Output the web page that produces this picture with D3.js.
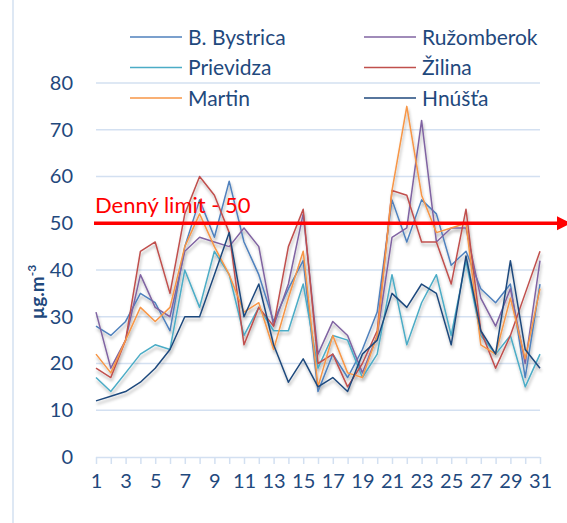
<!DOCTYPE html>
<html>
<head>
<meta charset="utf-8">
<script src="https://cdn.jsdelivr.net/npm/d3@7"></script>
<style>
  body { margin: 0; background: #fff; }
  svg { display: block; font-family: Lato, "Open Sans", sans-serif; }
</style>
</head>
<body>
<svg id="chart" width="567" height="523"></svg>
<script>
const days = d3.range(1, 32);
const xTickLabels = [1, 3, 5, 7, 9, 11, 13, 15, 17, 19, 21, 23, 25, 27, 29, 31];
const yTicks = [0, 10, 20, 30, 40, 50, 60, 70, 80];
const limitValue = 50;
const limitLabel = "Denný limit - 50";

const bBystrica  = [28, 26, 29, 35, 33, 27, 45, 55, 47, 59, 46, 39, 29, 36, 42, 14, 22, 17, 23, 31, 55, 46, 55, 52, 41, 44, 36, 33, 37, 17, 37];
const ruzomberok = [31, 19, 25, 39, 32, 30, 44, 47, 46, 45, 49, 45, 28, 37, 52, 22, 29, 26, 18, 26, 47, 49, 72, 46, 49, 49, 34, 28, 36, 20, 42];
const prievidza  = [17, 14, 18, 22, 24, 23, 40, 32, 44, 39, 26, 32, 27, 27, 37, 19, 26, 25, 17, 22, 39, 24, 33, 39, 26, 42, 26, 22, 26, 15, 22];
const zilina     = [19, 17, 25, 44, 46, 35, 52, 60, 56, 48, 24, 32, 28, 45, 53, 20, 22, 15, 20, 27, 57, 56, 46, 46, 37, 53, 27, 19, 26, 35, 44];
const martin     = [22, 18, 25, 32, 29, 32, 45, 52, 45, 39, 31, 33, 23, 34, 44, 15, 26, 18, 17, 26, 57, 75, 56, 48, 49, 50, 24, 22, 34, 21, 36];
const hnusta     = [12, 13, 14, 16, 19, 23, 30, 30, 39, 48, 30, 37, 24, 16, 21, 15, 17, 14, 22, 25, 35, 32, 37, 35, 24, 43, 27, 22, 42, 23, 19];

const seriesNames  = ["B. Bystrica", "Ružomberok", "Prievidza", "Žilina", "Martin", "Hnúšťa"];
const seriesValues = [bBystrica, ruzomberok, prievidza, zilina, martin, hnusta];
const seriesColors = ["#4F81BD", "#8064A2", "#4BACC6", "#C0504D", "#F79646", "#1F497D"];

const svg = d3.select("#chart");
const textColor = "#1F497D";
const gridColor = "#D3E0F1";

const margin = { top: 83, right: 27, bottom: 66, left: 96 };
const width = 567, height = 523;

const x = d3.scalePoint()
    .domain(days)
    .range([margin.left, width - margin.right]);

const y = d3.scaleLinear()
    .domain([0, 80])
    .range([height - margin.bottom, margin.top]);

// frame line on the left
svg.append("line")
    .attr("x1", 13).attr("x2", 13)
    .attr("y1", 0).attr("y2", height)
    .attr("stroke", gridColor).attr("stroke-width", 1.5);

// shadow for series
const defs = svg.append("defs");
defs.append("filter")
    .attr("id", "shadow")
    .attr("x", "-10%").attr("y", "-10%").attr("width", "120%").attr("height", "130%")
    .append("feDropShadow")
    .attr("dx", 1).attr("dy", 3).attr("stdDeviation", 1.8)
    .attr("flood-color", "#000").attr("flood-opacity", 0.3);

// grid lines
svg.append("g")
    .selectAll("line")
    .data(yTicks.filter(d => d > 0))
    .join("line")
    .attr("x1", margin.left)
    .attr("x2", width - margin.right)
    .attr("y1", d => y(d))
    .attr("y2", d => y(d))
    .attr("stroke", gridColor)
    .attr("stroke-width", 1.5);

// y axis labels
const yAxis = svg.append("g")
    .attr("transform", `translate(${margin.left},0)`)
    .call(d3.axisLeft(y).tickValues(yTicks).tickSize(0).tickPadding(23));
yAxis.select(".domain").remove();
yAxis.selectAll("text")
    .attr("fill", textColor)
    .style("font-size", "20px")
    .style("font-family", "Lato, sans-serif");

// x axis
const xAxis = svg.append("g")
    .attr("transform", `translate(0,${y(0)})`)
    .call(d3.axisBottom(x).tickSize(7).tickPadding(10)
        .tickFormat(d => xTickLabels.includes(d) ? d : ""));
xAxis.select(".domain")
    .attr("stroke", gridColor).attr("stroke-width", 1.5)
    .attr("d", `M${margin.left},0.5H${width - margin.right}`);
xAxis.selectAll(".tick line").attr("stroke", gridColor).attr("stroke-width", 1.5);
xAxis.selectAll("text")
    .attr("fill", textColor)
    .style("font-size", "20px")
    .style("font-family", "Lato, sans-serif");

// y axis title
svg.append("text")
    .attr("transform", `translate(44,${(y(0) + y(80)) / 2 + 22}) rotate(-90)`)
    .attr("text-anchor", "middle")
    .attr("fill", textColor)
    .style("font-size", "19px")
    .style("font-weight", "bold")
    .html('µg.m<tspan dy="-8" font-size="12">-3</tspan>');

// series lines
const line = d3.line()
    .x((d, i) => x(days[i]))
    .y(d => y(d));

svg.append("g")
    .attr("filter", "url(#shadow)")
    .selectAll("path")
    .data(seriesValues)
    .join("path")
    .attr("d", line)
    .attr("fill", "none")
    .attr("stroke", (d, i) => seriesColors[i])
    .attr("stroke-width", 1.5)
    .attr("stroke-linejoin", "round");

// daily limit arrow
defs.append("marker")
    .attr("id", "arrow")
    .attr("viewBox", "0 0 10 10")
    .attr("refX", 10).attr("refY", 5)
    .attr("markerWidth", 4).attr("markerHeight", 4.5)
    .attr("markerUnits", "strokeWidth")
    .attr("orient", "auto")
    .append("path")
    .attr("d", "M0,0L10,5L0,10Z")
    .attr("fill", "#FF0000");

svg.append("line")
    .attr("x1", margin.left - 2)
    .attr("x2", 571)
    .attr("y1", y(limitValue))
    .attr("y2", y(limitValue))
    .attr("stroke", "#FF0000")
    .attr("stroke-width", 3.5)
    .attr("marker-end", "url(#arrow)");

svg.append("text")
    .attr("x", margin.left - 1)
    .attr("y", y(limitValue) - 10)
    .attr("fill", "#FF0000")
    .style("font-size", "22px")
    .text(limitLabel);

// legend
const legend = svg.append("g")
    .selectAll("g")
    .data(seriesNames)
    .join("g")
    .attr("transform", (d, i) => `translate(${i % 2 === 0 ? 130 : 364},${37 + Math.floor(i / 2) * 30.5})`);

legend.append("line")
    .attr("x1", 0).attr("x2", 52)
    .attr("stroke", (d, i) => seriesColors[i])
    .attr("stroke-width", 1.5);

legend.append("text")
    .attr("x", 58)
    .attr("dy", "0.36em")
    .attr("fill", textColor)
    .style("font-size", "21px")
    .text(d => d);
</script>
</body>
</html>
